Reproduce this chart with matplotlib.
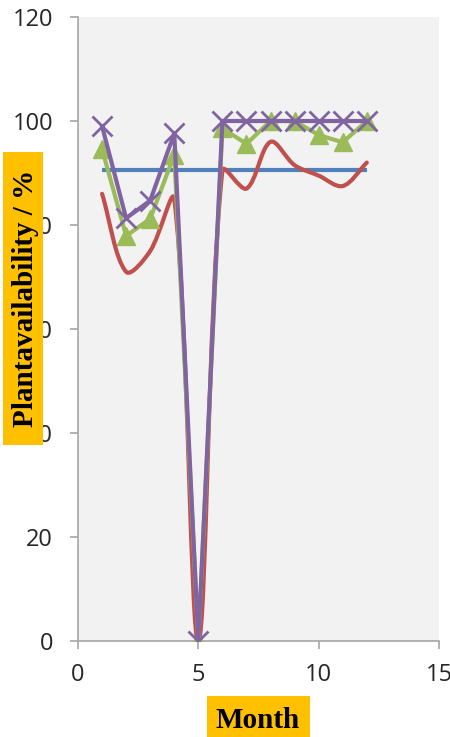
import numpy as np
import matplotlib
matplotlib.use("Agg")
import matplotlib.pyplot as plt
from matplotlib.path import Path
from matplotlib.patches import PathPatch, Rectangle

# monthly plant availability (%)
months = [1, 2, 3, 4, 5, 6, 7, 8, 9, 10, 11, 12]
target = [90.5] * 12
actual_smooth = [86, 71, 75, 85, 0, 90.5, 87, 96, 91.5, 89.5, 87.5, 92]
series_tri = [94.6, 77.9, 81.2, 93.5, 0, 98.6, 95.6, 100, 100, 97.3, 95.9, 100]
series_x = [99, 81.3, 84.7, 97.6, 0, 100, 100, 100, 100, 100, 100, 100]

xticks = [0, 5, 10, 15]
yticks = [0, 20, 40, 60, 80, 100, 120]

BLUE, RED, GREEN, PURPLE = "#4F81BD", "#C0504D", "#9BBB59", "#8064A2"
AXIS_GREY = "#a6a6a6"
LABEL_BG = "#FFC000"
W, H = 450, 737


def smooth_path(ax, x, y):
    """Bezier spline through the points, tangents weighted by segment length
    in screen space so steep drops don't overshoot much."""
    pts = ax.transData.transform(np.column_stack([x, y]).astype(float))
    n = len(pts)
    seg = np.linalg.norm(np.diff(pts, axis=0), axis=1)
    verts = [pts[0]]
    codes = [Path.MOVETO]
    for i in range(n - 1):
        p1, p2 = pts[i], pts[i + 1]
        if i > 0:
            t1 = (pts[i + 1] - pts[i - 1]) * seg[i] / (seg[i - 1] + seg[i]) / 3
        else:
            t1 = (p2 - p1) / 3
        if i + 2 < n:
            t2 = (pts[i + 2] - pts[i]) * seg[i] / (seg[i] + seg[i + 1]) / 3
        else:
            t2 = (p2 - p1) / 3
        verts += [p1 + t1, p2 - t2, p2]
        codes += [Path.CURVE4] * 3
    verts = ax.transData.inverted().transform(np.array(verts))
    return Path(verts, codes)


fig = plt.figure(figsize=(W / 100, H / 100), dpi=100)
ax = fig.add_axes([78 / W, 1 - 641 / H, 361 / W, 624 / H])
ax.set_facecolor("#f2f2f2")
ax.set_xlim(0, 15)
ax.set_ylim(0, 120)
ax.set_xticks(xticks)
ax.set_yticks(yticks)

ax.plot(months, target, color=BLUE, lw=3, solid_capstyle="butt", zorder=2)
ax.add_patch(PathPatch(smooth_path(ax, months, actual_smooth), fill=False,
                       ec=RED, lw=3, capstyle="round", joinstyle="round", zorder=3))
ax.plot(months, series_tri, color=GREEN, lw=3, marker="^", ms=13,
        mec=GREEN, mfc=GREEN, zorder=4)
ax.plot(months, series_x, color=PURPLE, lw=3, marker="x", ms=14, mew=2,
        zorder=5)

for side in ("top", "right"):
    ax.spines[side].set_visible(False)
for side in ("left", "bottom"):
    ax.spines[side].set_color(AXIS_GREY)
    ax.spines[side].set_linewidth(1.2)

ax.tick_params(axis="both", direction="out", length=6, width=1.2, color=AXIS_GREY,
               labelsize=17, labelcolor="#262626")
ax.tick_params(axis="y", pad=12)
ax.tick_params(axis="x", pad=10)
for lab in ax.get_xticklabels() + ax.get_yticklabels():
    lab.set_fontfamily("Open Sans")

# axis titles on orange boxes, drawn above the tick labels
fig.add_artist(Rectangle((3 / W, 1 - 445 / H), 40 / W, 293 / H,
                         transform=fig.transFigure, fc=LABEL_BG, ec="none", zorder=5))
fig.text(33 / W, 1 - 298 / H, "Plantavailability / %", rotation=90,
         rotation_mode="anchor", ha="center", va="baseline",
         fontsize=21, fontweight="bold", family="Liberation Serif",
         color="black", zorder=6)

fig.add_artist(Rectangle((207 / W, 0), 103 / W, 41 / H,
                         transform=fig.transFigure, fc=LABEL_BG, ec="none", zorder=5))
fig.text(258 / W, 1 - 728 / H, "Month", ha="center", va="baseline",
         fontsize=21, fontweight="bold", family="Liberation Serif",
         color="black", zorder=6)

fig.savefig("out.png", dpi=100)
